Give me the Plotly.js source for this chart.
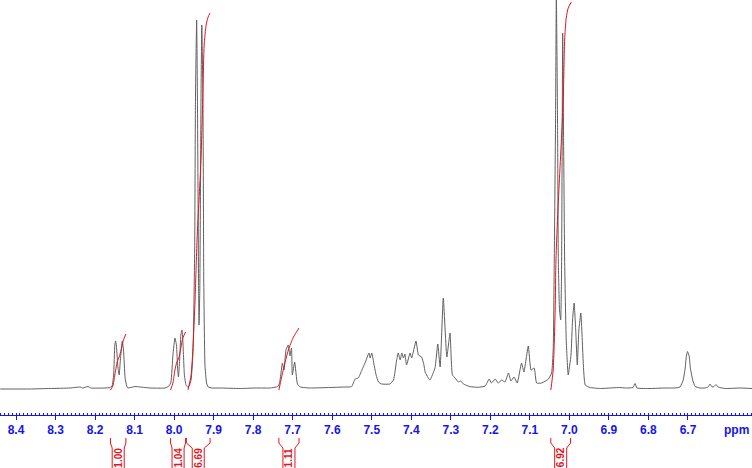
<!DOCTYPE html>
<html>
<head>
<meta charset="utf-8">
<script src="https://cdn.plot.ly/plotly-3.0.1.min.js"></script>
<style>
  html, body { margin: 0; padding: 0; background: #fff; }
  #grafico { width: 752px; height: 468px; }
</style>
</head>
<body>
<div id="grafico"></div>
<script>
// chemical shift (ppm) and intensity (a.u.)
const ppm = [
  8.440, 8.365, 8.314, 8.263, 8.238, 8.231, 8.218, 8.211, 8.175, 8.162,
  8.157, 8.153, 8.150, 8.148, 8.146, 8.142, 8.139, 8.136, 8.132, 8.131,
  8.128, 8.124, 8.120, 8.117, 8.099, 8.086, 8.061, 8.023, 8.013, 8.008,
  8.003, 7.998, 7.994, 7.991, 7.989, 7.986, 7.983, 7.980, 7.978, 7.974,
  7.970, 7.966, 7.962, 7.957, 7.952, 7.948, 7.946, 7.943, 7.941, 7.938,
  7.937, 7.935, 7.932, 7.930, 7.927, 7.925, 7.922, 7.918, 7.914, 7.904,
  7.884, 7.833, 7.795, 7.757, 7.742, 7.736, 7.732, 7.726, 7.722, 7.717,
  7.711, 7.707, 7.703, 7.701, 7.695, 7.688, 7.681, 7.656, 7.606, 7.568,
  7.551, 7.542, 7.534, 7.525, 7.517, 7.507, 7.504, 7.500, 7.494, 7.489,
  7.483, 7.475, 7.454, 7.445, 7.437, 7.433, 7.428, 7.424, 7.420, 7.416,
  7.412, 7.403, 7.399, 7.388, 7.382, 7.374, 7.368, 7.365, 7.353, 7.340,
  7.333, 7.327, 7.319, 7.310, 7.302, 7.296, 7.289, 7.281, 7.275, 7.268,
  7.251, 7.230, 7.213, 7.203, 7.197, 7.188, 7.180, 7.171, 7.163, 7.154,
  7.148, 7.140, 7.132, 7.121, 7.115, 7.104, 7.097, 7.089, 7.083, 7.070,
  7.053, 7.045, 7.041, 7.038, 7.035, 7.033, 7.030, 7.028, 7.025, 7.022,
  7.020, 7.018, 7.017, 7.015, 7.012, 7.008, 7.003, 6.996, 6.992, 6.988,
  6.984, 6.980, 6.976, 6.971, 6.968, 6.964, 6.960, 6.948, 6.922, 6.897,
  6.872, 6.859, 6.839, 6.834, 6.829, 6.796, 6.758, 6.733, 6.720, 6.712,
  6.707, 6.704, 6.701, 6.697, 6.694, 6.688, 6.682, 6.670, 6.657, 6.649,
  6.644, 6.639, 6.634, 6.629, 6.624, 6.606, 6.568, 6.538
];
const intensidad = [
  -1, -1, -0.5, 0, 1, 0, 1.5, 0, 0, 0.5,
  2, 13, 43, 47, 42, 20, 13, 28, 45, 47,
  38, 10, 2, 0, 1.5, 1, 0, 0, 2, 6,
  33, 50, 43, 18, 11, 28, 53, 58, 48, 13,
  3, 1, 2, 8, 38, 138, 288, 368, 288, 98,
  63, 98, 288, 363, 288, 108, 23, 5, 1, 0,
  0, -0.5, 0, 0, 1, 2, 8, 25, 18, 38,
  43, 32, 40, 13, 26, 4, 1, 0, 0.5, 1,
  1.3, 9, 10, 18, 25, 35, 30, 35, 23, 13,
  6, 4, 4, 8, 28, 35, 28, 35, 30, 34,
  23, 35, 30, 47, 33, 31, 23, 16, 8, 20,
  44, 21, 90, 31, 55, 13, 10, 6, 7, 4,
  1.3, 0.7, 2, 9, 5, 9, 5, 8, 6, 15,
  7, 11, 5, 25, 16, 42, 18, 20, 5, 5,
  9, 15, 38, 138, 268, 395, 268, 128, 78, 68,
  108, 268, 355, 268, 128, 48, 13, 33, 68, 85,
  58, 23, 58, 75, 53, 18, 3, 0.5, -0.5, 0,
  0.5, 0, 0.5, 4.5, 0, -0.5, 0, 0, 1, 8,
  20, 32, 36.5, 32, 20, 8, 1.5, 0, 0, 1,
  4, 1, 1.5, 3.5, 1, -0.5, 0, -0.5
];

// axis labels
const marcasPpm = [8.4, 8.3, 8.2, 8.1, 8.0, 7.9, 7.8, 7.7, 7.6, 7.5, 7.4, 7.3, 7.2, 7.1, 7.0, 6.9, 6.8, 6.7];

// integral curves
const integralPpm = [
  [8.161, 8.155, 8.150, 8.144, 8.139, 8.134, 8.129, 8.122],
  [8.009, 8.003, 7.998, 7.993, 7.988, 7.983, 7.978, 7.971],
  [7.965, 7.957, 7.952, 7.947, 7.942, 7.937, 7.932, 7.927, 7.924, 7.919, 7.914, 7.909],
  [7.735, 7.724, 7.711, 7.698, 7.684],
  [7.047, 7.041, 7.036, 7.034, 7.029, 7.024, 7.019, 7.015, 7.012, 7.008, 7.003, 6.995]
];
const integralVal = [
  [-2, 2, 13, 26, 31, 38, 47, 54],
  [-2, 5, 18, 26, 30, 40, 50, 56],
  [-2, 13, 43, 88, 148, 188, 228, 298, 343, 363, 371, 375],
  [-2, 18, 38, 51, 60],
  [-2, 18, 78, 128, 178, 218, 258, 298, 348, 370, 380, 386]
];

// integration ranges and values
const intDesde = [8.161, 8.009, 7.969, 7.735, 7.047];
const intHasta = [8.122, 7.971, 7.909, 7.684, 6.997];
const intValor = ["1.00", "1.04", "6.69", "1.11", "6.92"];

const rojo = "#e4141c";
const azul = "#1414f0";

const trazas = [{
  x: ppm,
  y: intensidad,
  type: "scatter",
  mode: "lines",
  line: { color: "#606060", width: 1, shape: "spline", smoothing: 0.4 },
  hoverinfo: "skip"
}];

for (let i = 0; i < integralPpm.length; i++) {
  trazas.push({
    x: integralPpm[i],
    y: integralVal[i],
    type: "scatter",
    mode: "lines",
    line: { color: rojo, width: 1, shape: "spline", smoothing: 0.6 },
    hoverinfo: "skip"
  });
}

// bracket geometry (paper units below the axis)
const yArriba = -0.0554, yMedio = -0.0675, yDentro = -0.0795, yAbajo = -0.14;
const mitad = 0.0152;
const formas = [];
const notas = [];
for (let i = 0; i < intDesde.length; i++) {
  const a = intDesde[i], b = intHasta[i], c = (a + b) / 2;
  formas.push({
    type: "path", xref: "x", yref: "paper",
    path: `M ${a},${yArriba} L ${a},${yMedio} L ${c + mitad},${yDentro} L ${c + mitad},${yAbajo}`,
    line: { color: rojo, width: 1 }
  });
  formas.push({
    type: "path", xref: "x", yref: "paper",
    path: `M ${b},${yArriba} L ${b},${yMedio} L ${c - mitad},${yDentro} L ${c - mitad},${yAbajo}`,
    line: { color: rojo, width: 1 }
  });
  notas.push({
    x: c, y: -0.1024, xref: "x", yref: "paper",
    text: intValor[i], showarrow: false, textangle: -90,
    xanchor: "center", yanchor: "middle",
    font: { family: "Liberation Sans, Arial", size: 10, color: rojo, weight: "bold" }
  });
}
notas.push({
  x: 0.979, y: -0.036, xref: "paper", yref: "paper",
  text: "ppm", showarrow: false, xanchor: "center", yanchor: "middle",
  font: { family: "Liberation Sans, Arial", size: 12, color: azul, weight: "bold" }
});

Plotly.newPlot("grafico", trazas, {
  width: 752,
  height: 468,
  margin: { l: 0, r: 0, t: 0, b: 53 },
  paper_bgcolor: "#fff",
  plot_bgcolor: "#fff",
  showlegend: false,
  xaxis: {
    range: [8.4405, 6.538],
    showgrid: false,
    zeroline: false,
    showline: true,
    linecolor: azul,
    linewidth: 1,
    ticks: "outside",
    ticklen: 4,
    tickcolor: azul,
    tickmode: "array",
    tickvals: marcasPpm,
    ticktext: marcasPpm.map(v => v.toFixed(1)),
    tickfont: { family: "Liberation Sans, Arial", size: 12, color: azul, weight: "bold" },
    minor: { tickmode: "linear", tick0: 0, dtick: 0.01, ticks: "inside", ticklen: 2, tickcolor: azul, showgrid: false }
  },
  yaxis: {
    range: [-27, 388],
    visible: false,
    showgrid: false,
    zeroline: false
  },
  shapes: formas,
  annotations: notas
}, { staticPlot: true });
</script>
</body>
</html>
